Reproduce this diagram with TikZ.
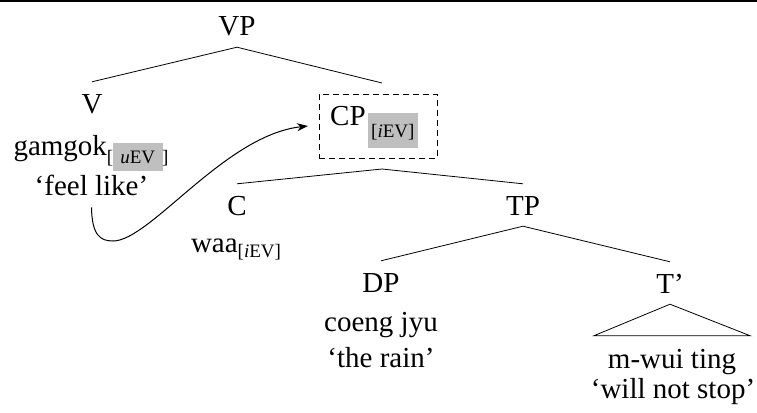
\documentclass[tikz,border=0pt]{standalone}
\usepackage{fontspec}
\setmainfont{Liberation Serif}
\usetikzlibrary{arrows.meta}
\newcommand{\mainsz}{\fontsize{29}{34}\selectfont}
\newcommand{\subsz}{\fontsize{19}{21}\selectfont}
\begin{document}
\begin{tikzpicture}[x=1pt,y=-1pt,
  cat/.style={font=\mainsz, text height=20pt, text depth=0pt, inner xsep=0pt, inner ysep=11pt, anchor=base},
  gloss/.style={font=\mainsz, inner sep=0pt, anchor=base},
  branch/.style={line width=0.8pt},
  ]
\useasboundingbox (0,0) rectangle (757,412);
\fill (0,0) rectangle (757,2);
% nodes
\node[cat] (VP) at (237,36) {VP};
\node[cat] (V) at (92,113) {V};
\node[gloss] (gamgok) at (91,155) {gamgok\raisebox{-8pt}{\subsz[\hspace{-0.5pt}{\setlength\fboxsep{7.5pt}\colorbox{gray!50}{\textit{u}EV}}\hspace{-0.5pt}]}};
\node[gloss, inner ysep=12pt] (feel) at (91.5,195) {‘feel like’};
\node[draw, dash pattern=on 6pt off 4pt, line width=0.8pt, minimum width=118pt, minimum height=64pt, inner sep=0pt, outer sep=11pt] (CP) at (378,126) {};
\node[gloss, anchor=base west] (CPlabel) at (330,125) {CP\hspace{2pt}\raisebox{-12pt}{\subsz\setlength\fboxsep{3.5pt}\colorbox{gray!50}{\rule[-7.5pt]{0pt}{28pt}[\textit{i}EV]}}};
\node[cat] (C) at (237,215) {C};
\node[gloss] (waa) at (236,252) {waa\raisebox{-5pt}{\subsz[\textit{i}EV]}};
\node[cat] (TP) at (523,215) {TP};
\node[cat] (DP) at (381,292) {DP};
\node[gloss] (coeng) at (381,331) {coeng jyu};
\node[gloss] (rain) at (381,367) {‘the rain’};
\node[cat] (Tbar) at (670,293) {T’};
\node[gloss, text height=20pt, inner xsep=14pt, inner ysep=12pt] (mwui) at (672,368) {m-wui ting};
\node[gloss] (will) at (673,398) {‘will not stop’};
% branches
\draw[branch] (VP.south) -- (V.north);
\draw[branch] (VP.south) -- ([xshift=4pt]CP.north);
\draw[branch] ([xshift=4pt]CP.south) -- (C.north);
\draw[branch] ([xshift=4pt]CP.south) -- (TP.north);
\draw[branch] (TP.south) -- (DP.north);
\draw[branch] (TP.south) -- (Tbar.north);
\draw[branch] (Tbar.south) -- (mwui.north west) -- (mwui.north east) -- cycle;
% movement arrow
\draw[line width=1pt, -{Stealth[length=11pt,width=8pt]}] (feel.south) .. controls (92,235) and (100,241) .. (113,241) .. controls (150,241) and (225,135) .. (CP.west);
\end{tikzpicture}
\end{document}
